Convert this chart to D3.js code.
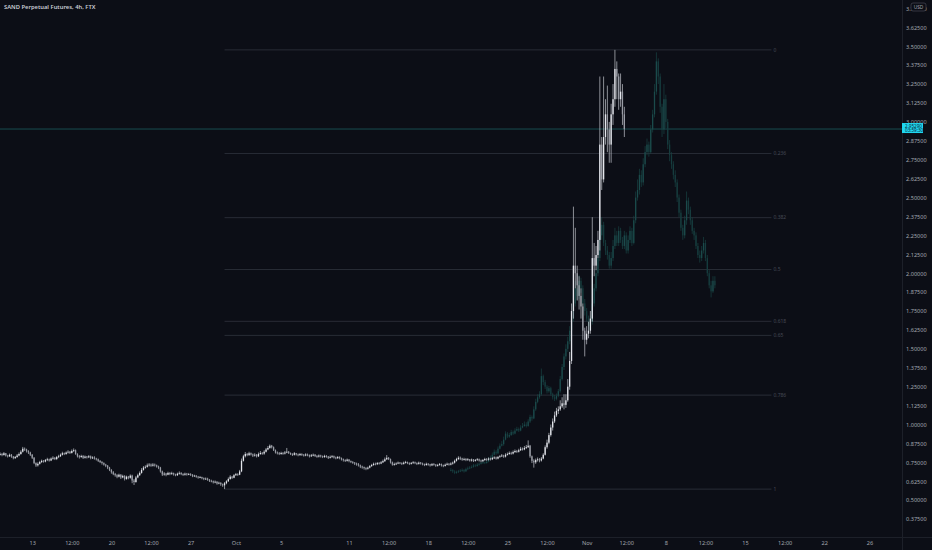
<!DOCTYPE html>
<html>
<head>
<meta charset="utf-8">
<script src="https://cdn.jsdelivr.net/npm/d3@7"></script>
<style>
body { margin: 0; background: #0c0e16; }
svg { display: block; font-family: "Noto Sans", sans-serif; }
</style>
</head>
<body>
<svg id="chart"></svg>
<script>
// SAND perp, 4h candles (open = previous close)
var whiteStart = "2021-09-10T04:00:00Z";
var whiteClose = [0.805,0.798,0.810,0.795,0.790,0.800,0.788,0.778,0.785,0.795,
0.805,0.820,0.840,0.835,0.825,0.815,0.800,0.780,0.745,0.730,
0.740,0.752,0.760,0.755,0.765,0.770,0.762,0.775,0.780,0.772,
0.785,0.790,0.800,0.810,0.805,0.815,0.820,0.812,0.825,0.830,
0.805,0.790,0.785,0.792,0.780,0.788,0.783,0.790,0.778,0.782,
0.775,0.770,0.760,0.752,0.745,0.735,0.728,0.715,0.700,0.685,
0.672,0.665,0.655,0.668,0.650,0.660,0.640,0.655,0.648,0.662,
0.630,0.620,0.650,0.665,0.680,0.700,0.715,0.720,0.730,0.735,
0.728,0.735,0.730,0.722,0.715,0.690,0.670,0.675,0.668,0.680,
0.672,0.678,0.670,0.665,0.675,0.680,0.672,0.668,0.675,0.670,
0.672,0.668,0.660,0.662,0.655,0.650,0.652,0.645,0.640,0.642,
0.635,0.628,0.625,0.618,0.622,0.610,0.615,0.605,0.598,0.612,
0.625,0.640,0.655,0.648,0.665,0.672,0.668,0.690,0.760,0.790,
0.805,0.798,0.810,0.802,0.795,0.800,0.790,0.805,0.812,0.808,
0.820,0.835,0.845,0.860,0.850,0.830,0.815,0.810,0.805,0.812,
0.808,0.815,0.820,0.812,0.805,0.800,0.810,0.802,0.798,0.805,
0.800,0.795,0.802,0.798,0.790,0.796,0.800,0.792,0.788,0.795,
0.790,0.785,0.792,0.788,0.780,0.786,0.790,0.782,0.778,0.785,
0.778,0.770,0.765,0.760,0.768,0.758,0.752,0.748,0.742,0.738,
0.730,0.722,0.718,0.712,0.708,0.715,0.725,0.732,0.740,0.738,
0.745,0.742,0.750,0.758,0.770,0.780,0.772,0.750,0.735,0.738,
0.742,0.748,0.745,0.740,0.748,0.752,0.745,0.740,0.746,0.750,
0.745,0.740,0.748,0.742,0.738,0.732,0.740,0.736,0.730,0.738,
0.735,0.728,0.732,0.738,0.730,0.726,0.734,0.740,0.735,0.742,
0.748,0.760,0.772,0.780,0.775,0.768,0.772,0.765,0.770,0.762,
0.768,0.760,0.765,0.770,0.762,0.758,0.765,0.772,0.768,0.775,
0.770,0.778,0.782,0.775,0.785,0.790,0.795,0.788,0.800,0.805,
0.812,0.808,0.818,0.825,0.820,0.830,0.840,0.835,0.845,0.850,
0.860,0.790,0.760,0.750,0.765,0.770,0.762,0.775,0.800,0.850,
0.880,0.930,0.980,1.020,1.060,1.090,1.100,1.120,1.140,1.130,
1.160,1.250,1.420,1.750,2.050,2.000,1.920,1.850,1.780,1.620,
1.560,1.600,1.620,1.700,2.100,2.050,2.120,2.220,2.850,2.620,
2.900,3.050,2.950,2.850,3.050,3.150,3.350,3.300,3.150,3.200,
3.050,2.953];
var whiteHigh = [0.815,0.812,0.818,0.812,0.800,0.808,0.805,0.792,0.792,0.805,
0.815,0.830,0.852,0.848,0.840,0.830,0.820,0.805,0.785,0.750,
0.750,0.760,0.768,0.765,0.772,0.780,0.775,0.782,0.790,0.785,
0.792,0.800,0.808,0.820,0.815,0.822,0.830,0.825,0.835,0.842,
0.835,0.810,0.798,0.800,0.798,0.795,0.792,0.798,0.795,0.790,
0.790,0.780,0.775,0.765,0.758,0.750,0.740,0.732,0.720,0.705,
0.692,0.680,0.672,0.675,0.672,0.668,0.665,0.662,0.660,0.670,
0.668,0.640,0.660,0.675,0.690,0.712,0.725,0.730,0.742,0.745,
0.742,0.745,0.742,0.735,0.728,0.720,0.695,0.685,0.680,0.688,
0.685,0.688,0.682,0.675,0.682,0.690,0.685,0.678,0.682,0.680,
0.680,0.678,0.672,0.668,0.665,0.660,0.660,0.655,0.650,0.650,
0.648,0.640,0.635,0.630,0.630,0.625,0.622,0.618,0.610,0.620,
0.632,0.650,0.665,0.660,0.672,0.680,0.678,0.700,0.775,0.800,
0.818,0.812,0.820,0.815,0.808,0.810,0.805,0.815,0.825,0.818,
0.830,0.845,0.858,0.868,0.865,0.855,0.835,0.822,0.818,0.820,
0.818,0.825,0.845,0.825,0.815,0.810,0.818,0.812,0.808,0.812,
0.810,0.805,0.810,0.808,0.802,0.805,0.808,0.805,0.798,0.802,
0.800,0.795,0.800,0.798,0.792,0.795,0.798,0.795,0.788,0.792,
0.790,0.782,0.775,0.770,0.775,0.772,0.762,0.758,0.752,0.748,
0.745,0.735,0.728,0.722,0.718,0.722,0.732,0.740,0.748,0.748,
0.752,0.752,0.758,0.768,0.782,0.798,0.785,0.775,0.755,0.748,
0.750,0.755,0.752,0.750,0.755,0.760,0.755,0.750,0.752,0.758,
0.755,0.750,0.755,0.752,0.748,0.742,0.748,0.745,0.740,0.745,
0.745,0.738,0.740,0.745,0.742,0.735,0.742,0.748,0.745,0.750,
0.755,0.768,0.780,0.790,0.788,0.780,0.780,0.778,0.778,0.772,
0.775,0.772,0.772,0.778,0.775,0.768,0.772,0.780,0.778,0.782,
0.780,0.785,0.790,0.788,0.792,0.798,0.805,0.800,0.810,0.815,
0.822,0.820,0.828,0.835,0.832,0.840,0.852,0.848,0.858,0.865,
0.895,0.865,0.795,0.770,0.775,0.782,0.778,0.785,0.810,0.862,
0.900,0.945,1.000,1.040,1.085,1.110,1.120,1.160,1.180,1.200,
1.200,1.300,1.480,1.800,2.440,2.300,2.050,1.980,1.900,1.800,
1.640,1.650,1.680,1.750,2.370,2.200,2.180,2.280,3.300,2.900,
3.300,3.150,3.240,3.000,3.120,3.250,3.476,3.400,3.320,3.320,
3.250,3.100];
var whiteLow = [0.795,0.790,0.795,0.788,0.782,0.785,0.780,0.770,0.772,0.780,
0.790,0.800,0.815,0.825,0.815,0.805,0.792,0.772,0.738,0.720,
0.722,0.735,0.745,0.748,0.750,0.758,0.755,0.758,0.768,0.765,
0.765,0.778,0.785,0.795,0.798,0.800,0.808,0.805,0.808,0.818,
0.800,0.782,0.775,0.780,0.772,0.775,0.775,0.778,0.770,0.772,
0.768,0.762,0.752,0.745,0.735,0.728,0.718,0.705,0.692,0.675,
0.665,0.655,0.645,0.650,0.640,0.645,0.630,0.635,0.638,0.642,
0.612,0.600,0.615,0.645,0.660,0.675,0.695,0.708,0.715,0.722,
0.720,0.722,0.722,0.715,0.705,0.682,0.660,0.662,0.658,0.665,
0.665,0.668,0.662,0.658,0.660,0.668,0.665,0.660,0.662,0.662,
0.665,0.660,0.652,0.655,0.648,0.642,0.645,0.638,0.632,0.635,
0.628,0.620,0.618,0.610,0.612,0.602,0.605,0.595,0.588,0.573,
0.605,0.620,0.635,0.640,0.645,0.660,0.660,0.665,0.685,0.755,
0.782,0.790,0.792,0.795,0.785,0.788,0.782,0.785,0.800,0.800,
0.800,0.815,0.830,0.840,0.842,0.825,0.808,0.802,0.798,0.800,
0.800,0.802,0.810,0.805,0.798,0.792,0.795,0.795,0.790,0.792,
0.792,0.788,0.790,0.790,0.782,0.785,0.790,0.785,0.780,0.782,
0.782,0.778,0.780,0.780,0.772,0.775,0.780,0.775,0.770,0.772,
0.770,0.762,0.755,0.752,0.755,0.750,0.745,0.740,0.732,0.728,
0.722,0.712,0.708,0.702,0.698,0.702,0.710,0.720,0.728,0.730,
0.732,0.735,0.738,0.745,0.752,0.765,0.765,0.742,0.728,0.728,
0.732,0.738,0.738,0.732,0.735,0.742,0.738,0.732,0.735,0.740,
0.738,0.732,0.735,0.735,0.730,0.725,0.728,0.728,0.722,0.725,
0.728,0.720,0.722,0.728,0.722,0.718,0.722,0.730,0.728,0.730,
0.735,0.742,0.755,0.765,0.765,0.760,0.762,0.758,0.760,0.755,
0.755,0.752,0.755,0.760,0.755,0.750,0.752,0.760,0.760,0.762,
0.762,0.765,0.772,0.768,0.770,0.780,0.785,0.780,0.782,0.795,
0.800,0.800,0.802,0.812,0.812,0.815,0.825,0.828,0.830,0.838,
0.845,0.780,0.745,0.715,0.740,0.755,0.750,0.755,0.770,0.795,
0.840,0.870,0.920,0.960,1.010,1.050,1.070,1.090,1.110,1.100,
1.110,1.150,1.230,1.400,1.700,1.900,1.820,1.760,1.700,1.560,
1.450,1.530,1.570,1.600,1.680,1.980,2.020,2.100,2.150,2.550,
2.600,2.850,2.800,2.730,2.730,2.980,3.100,3.150,3.080,3.100,
2.980,2.900];

// ghost copy drawn in dark teal
var tealStart = "2021-10-20T00:00:00Z";
var tealClose = [0.700,0.690,0.680,0.685,0.690,0.695,0.700,0.690,0.705,0.710,
0.715,0.720,0.730,0.725,0.735,0.740,0.745,0.750,0.745,0.755,
0.770,0.780,0.800,0.820,0.810,0.840,0.860,0.870,0.900,0.940,
0.920,0.930,0.950,0.940,0.960,0.970,0.960,0.980,0.990,1.000,
0.990,1.020,1.050,1.040,1.100,1.150,1.180,1.200,1.320,1.280,
1.250,1.220,1.240,1.200,1.180,1.170,1.190,1.220,1.300,1.380,
1.450,1.500,1.550,1.620,1.700,1.800,1.900,1.850,1.950,1.900,
1.800,1.750,1.700,1.650,1.680,1.800,1.900,2.000,2.100,2.250,
2.320,2.200,2.150,2.120,2.050,2.100,2.180,2.250,2.200,2.280,
2.220,2.180,2.250,2.150,2.220,2.280,2.200,2.350,2.500,2.550,
2.650,2.600,2.720,2.800,2.850,2.800,2.950,3.050,3.200,3.400,
3.300,3.100,2.950,3.150,3.000,2.850,2.780,2.720,2.650,2.600,
2.500,2.400,2.300,2.250,2.350,2.480,2.420,2.350,2.280,2.250,
2.180,2.120,2.100,2.150,2.200,2.100,2.000,1.920,1.880,1.950,
1.920];
var tealHigh = [0.712,0.705,0.698,0.695,0.700,0.705,0.710,0.705,0.715,0.722,
0.725,0.730,0.740,0.738,0.745,0.750,0.755,0.760,0.755,0.765,
0.785,0.795,0.815,0.835,0.830,0.855,0.875,0.890,0.920,0.955,
0.950,0.945,0.965,0.960,0.975,0.985,0.980,0.995,1.010,1.020,
1.015,1.035,1.065,1.060,1.120,1.170,1.200,1.220,1.370,1.330,
1.295,1.260,1.255,1.250,1.210,1.195,1.205,1.235,1.320,1.400,
1.470,1.530,1.580,1.650,1.740,1.840,1.950,1.920,1.990,1.970,
1.920,1.830,1.770,1.720,1.720,1.830,1.930,2.030,2.140,2.290,
2.370,2.340,2.220,2.180,2.140,2.140,2.220,2.300,2.280,2.310,
2.300,2.240,2.280,2.270,2.250,2.310,2.300,2.380,2.540,2.620,
2.690,2.680,2.760,2.840,2.890,2.870,2.980,3.080,3.250,3.460,
3.420,3.320,3.120,3.250,3.180,3.020,2.880,2.800,2.740,2.680,
2.620,2.520,2.420,2.320,2.380,2.540,2.500,2.440,2.370,2.300,
2.270,2.200,2.150,2.180,2.240,2.220,2.120,2.020,1.950,1.980,
1.980];
var tealLow = [0.690,0.680,0.672,0.675,0.680,0.685,0.688,0.682,0.688,0.698,
0.705,0.710,0.715,0.718,0.722,0.728,0.735,0.740,0.738,0.742,
0.750,0.765,0.775,0.795,0.800,0.805,0.835,0.855,0.860,0.895,
0.910,0.912,0.925,0.930,0.935,0.955,0.950,0.955,0.975,0.985,
0.980,0.985,1.010,1.025,1.035,1.090,1.140,1.170,1.190,1.260,
1.235,1.205,1.210,1.190,1.165,1.155,1.160,1.180,1.210,1.290,
1.360,1.430,1.480,1.530,1.600,1.680,1.780,1.820,1.830,1.870,
1.780,1.720,1.680,1.620,1.620,1.660,1.780,1.880,1.980,2.080,
2.220,2.180,2.120,2.090,2.030,2.030,2.080,2.160,2.180,2.180,
2.200,2.160,2.160,2.130,2.130,2.200,2.180,2.190,2.330,2.480,
2.520,2.570,2.580,2.700,2.780,2.770,2.790,2.930,3.030,3.180,
3.250,3.060,2.900,2.920,2.960,2.820,2.740,2.690,2.620,2.570,
2.470,2.370,2.280,2.220,2.230,2.320,2.390,2.320,2.260,2.220,
2.160,2.100,2.070,2.080,2.130,2.080,1.980,1.900,1.840,1.870,
1.900];

var priceTicks = [3.75,3.625,3.5,3.375,3.25,3.125,3.0,2.875,2.75,2.625,2.5,2.375,2.25,2.125,
  2.0,1.875,1.75,1.625,1.5,1.375,1.25,1.125,1.0,0.875,0.75,0.625,0.5,0.375];
var dateTicks = ["2021-09-13T00:00:00Z","2021-09-16T12:00:00Z","2021-09-20T00:00:00Z","2021-09-23T12:00:00Z",
  "2021-09-27T00:00:00Z","2021-10-01T00:00:00Z","2021-10-05T00:00:00Z","2021-10-11T00:00:00Z",
  "2021-10-14T12:00:00Z","2021-10-18T00:00:00Z","2021-10-21T12:00:00Z","2021-10-25T00:00:00Z",
  "2021-10-28T12:00:00Z","2021-11-01T00:00:00Z","2021-11-04T12:00:00Z","2021-11-08T00:00:00Z",
  "2021-11-11T12:00:00Z","2021-11-15T00:00:00Z","2021-11-18T12:00:00Z","2021-11-22T00:00:00Z",
  "2021-11-26T00:00:00Z"];
var dateLabels = ["13","12:00","20","12:00","27","Oct","5","11","12:00","18","12:00","25",
  "12:00","Nov","12:00","8","12:00","15","12:00","22","26"];

var fibLevels = [0, 0.236, 0.382, 0.5, 0.618, 0.65, 0.786, 1];
var fibTop = 3.476, fibBottom = 0.573;
var fibFrom = "2021-09-30T00:00:00Z", fibTo = "2021-11-17T08:00:00Z";

var lastPrice = 2.9529, countdown = "03:59:30";
var title = "SAND Perpetual Futures, 4h, FTX";

var width = 932, height = 550, plotW = 902, plotH = 537;
var bg = "#0c0e16";

var svg = d3.select('#chart')
	.attr("width", width)
	.attr("height", height);

svg.append("rect").attr("width", width).attr("height", height).attr("fill", bg);

svg.append("clipPath").attr("id", "plot")
	.append("rect").attr("width", plotW).attr("height", plotH);

var x = d3.scaleTime()
	.domain([new Date("2021-09-13T00:00:00Z"), new Date("2021-11-26T00:00:00Z")])
	.range([32.2, 869.5]);

var y = d3.scaleLinear()
	.domain([0.2565, 3.8057])
	.range([plotH, 0]);

function toCandles(start, c, h, l) {
	var t0 = new Date(start).getTime();
	return c.map(function(d, i) {
		return {t: new Date(t0 + i * 4 * 3600e3), o: i ? c[i - 1] : d, h: h[i], l: l[i], c: d};
	});
}

var plot = svg.append("g").attr("clip-path", "url(#plot)");

// fib retracement
var fib = plot.append("g");
fibLevels.forEach(function(lv) {
	var p = fibTop - lv * (fibTop - fibBottom);
	fib.append("line")
		.attr("x1", x(new Date(fibFrom))).attr("x2", x(new Date(fibTo)))
		.attr("y1", y(p)).attr("y2", y(p))
		.attr("stroke", "#30333d").attr("stroke-width", 0.8);
	fib.append("text")
		.attr("x", x(new Date(fibTo)) + 2).attr("y", y(p) + 1.8)
		.attr("font-size", 5).attr("fill", "#454955")
		.text(lv);
});

// last price line
plot.append("line")
	.attr("x1", 0).attr("x2", plotW)
	.attr("y1", y(lastPrice)).attr("y2", y(lastPrice))
	.attr("stroke", "#1b5d60").attr("stroke-width", 0.8);

function drawCandles(data, upCol, downCol, wickCol) {
	var g = plot.append("g");
	var bw = 1.3;
	g.selectAll("line").data(data).enter().append("line")
		.attr("x1", function(d) { return x(d.t); })
		.attr("x2", function(d) { return x(d.t); })
		.attr("y1", function(d) { return y(Math.max(d.h, d.o, d.c)); })
		.attr("y2", function(d) { return y(Math.min(d.l, d.o, d.c)); })
		.attr("stroke", wickCol).attr("stroke-width", 0.7);
	g.selectAll("rect").data(data).enter().append("rect")
		.attr("x", function(d) { return x(d.t) - bw / 2; })
		.attr("width", bw)
		.attr("y", function(d) { return y(Math.max(d.o, d.c)); })
		.attr("height", function(d) { return Math.max(0.8, Math.abs(y(d.o) - y(d.c))); })
		.attr("fill", function(d) { return d.c >= d.o ? upCol : downCol; });
}

drawCandles(toCandles(tealStart, tealClose, tealHigh, tealLow), "#1b4a4b", "#163c3e", "#184344");
drawCandles(toCandles(whiteStart, whiteClose, whiteHigh, whiteLow), "#e4e6ec", "#9a9da6", "#c3c6cd");

// separators
svg.append("line").attr("x1", plotW + 0.5).attr("x2", plotW + 0.5).attr("y1", 0).attr("y2", height)
	.attr("stroke", "#1d2029");
svg.append("line").attr("x1", 0).attr("x2", width).attr("y1", plotH + 0.5).attr("y2", plotH + 0.5)
	.attr("stroke", "#1d2029");

// price axis
var yAxis = d3.axisRight(y).tickValues(priceTicks).tickFormat(d3.format(".5f")).tickSize(0).tickPadding(4);
svg.append("g")
	.attr("transform", `translate(${plotW},0)`)
	.call(yAxis)
	.attr("font-size", 5.6).attr("font-family", "Noto Sans")
	.call(function(g) { g.select(".domain").remove(); })
	.selectAll("text").attr("fill", "#a3a6af");

// time axis
var dates = dateTicks.map(function(d) { return new Date(d); });
var xAxis = d3.axisBottom(x).tickValues(dates)
	.tickFormat(function(d, i) { return dateLabels[i]; })
	.tickSize(0).tickPadding(4);
svg.append("g")
	.attr("transform", `translate(0,${plotH})`)
	.call(xAxis)
	.attr("font-size", 5.6).attr("font-family", "Noto Sans")
	.call(function(g) { g.select(".domain").remove(); })
	.selectAll("text").attr("fill", "#a3a6af");

// USD badge (sits over the top tick, as in TradingView)
svg.append("rect").attr("x", 911).attr("y", 3).attr("width", 15).attr("height", 8).attr("rx", 2)
	.attr("fill", bg).attr("stroke", "#50535e").attr("stroke-width", 0.6);
svg.append("text").attr("x", 918.5).attr("y", 8.8).attr("text-anchor", "middle")
	.attr("font-size", 4.8).attr("fill", "#a3a6af").text("USD");

// last price badge
var py = y(lastPrice);
svg.append("rect").attr("x", plotW).attr("y", py - 6).attr("width", 21).attr("height", 10)
	.attr("fill", "#1fd6ef");
svg.append("text").attr("x", plotW + 3).attr("y", py - 1.3)
	.attr("font-size", 4.6).attr("fill", "#0b2433").text(d3.format(".5f")(lastPrice));
svg.append("text").attr("x", plotW + 3).attr("y", py + 3)
	.attr("font-size", 4.6).attr("fill", "#0b2433").text(countdown);

// title
svg.append("text").attr("x", 4).attr("y", 9)
	.attr("font-size", 5.8).attr("font-weight", 600).attr("fill", "#c9ccd4")
	.text(title);
</script>
</body>
</html>
